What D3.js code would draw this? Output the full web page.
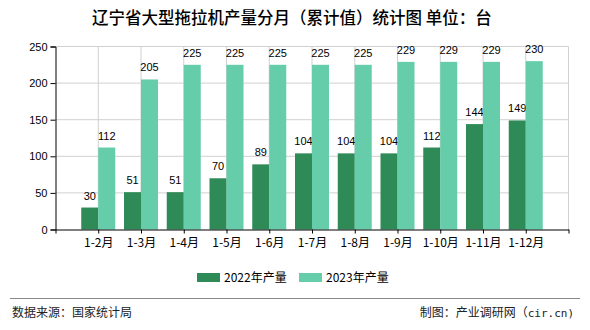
<!DOCTYPE html>
<html>
<head>
<meta charset="utf-8">
<script src="https://cdn.jsdelivr.net/npm/d3@7"></script>
<style>
  html, body { margin: 0; padding: 0; background: #fff; }
  svg { display: block; font-family: "Liberation Sans", Arial, "Noto Sans CJK SC", sans-serif; }
</style>
</head>
<body>
<svg id="chart" width="590" height="330"></svg>
<script>
// Monthly cumulative output of large tractors in Liaoning (units)
const categories = ["1-2月", "1-3月", "1-4月", "1-5月", "1-6月", "1-7月", "1-8月", "1-9月", "1-10月", "1-11月", "1-12月"];
const values2022 = [30, 51, 51, 70, 89, 104, 104, 104, 112, 144, 149];
const values2023 = [112, 205, 225, 225, 225, 225, 225, 229, 229, 229, 230];
const seriesNames = ["2022年产量", "2023年产量"];
const seriesColors = ["#2e8b57", "#66cdaa"];
const yTicks = [0, 50, 100, 150, 200, 250];

const svg = d3.select("#chart");
const cjk = '"Noto Sans CJK SC", "Liberation Sans", sans-serif';

// Slot positions: categories sit on slots 1..11 of a 0..12 axis
const x = d3.scaleLinear().domain([0, 12]).range([55.5, 568.5]);
const y = d3.scaleLinear().domain([0, 250]).range([229.5, 46.5]);
const barW = 17;

// Title
svg.append("text")
  .attr("x", 92).attr("y", 24)
  .attr("font-family", cjk).attr("font-size", 16.5).attr("font-weight", 500)
  .attr("fill", "#000")
  .text("辽宁省大型拖拉机产量分月（累计值）统计图 单位：台");

// Horizontal gridlines
svg.append("g").selectAll("line").data(yTicks.slice(1)).join("line")
  .attr("x1", x(0)).attr("x2", x(12))
  .attr("y1", d => y(d)).attr("y2", d => y(d))
  .attr("stroke", "#d0d0d0").attr("stroke-width", 1);

// Vertical gridlines
svg.append("g").selectAll("line").data(d3.range(1, 13)).join("line")
  .attr("x1", d => x(d)).attr("x2", d => x(d))
  .attr("y1", y(0)).attr("y2", y(250))
  .attr("stroke", "#d0d0d0").attr("stroke-width", 1);

// Bars with value labels
const groups = [values2022, values2023];
groups.forEach((vals, s) => {
  svg.append("g").selectAll("rect").data(vals).join("rect")
    .attr("x", (d, i) => s === 0 ? x(i + 1) - barW : x(i + 1))
    .attr("y", d => y(d))
    .attr("width", barW)
    .attr("height", d => y(0) - y(d))
    .attr("fill", seriesColors[s]);
  svg.append("g").selectAll("text").data(vals).join("text")
    .attr("x", (d, i) => s === 0 ? x(i + 1) - barW / 2 : x(i + 1) + barW / 2)
    .attr("y", d => y(d) - 8)
    .attr("text-anchor", "middle")
    .attr("font-size", 11).attr("fill", "#000")
    .text(d => d);
});

// Y axis
const yAxis = svg.append("g").attr("transform", `translate(${x(0)},0)`)
  .call(d3.axisLeft(y).tickValues(yTicks).tickSize(5).tickPadding(3));
yAxis.selectAll("text").attr("font-size", 11).attr("fill", "#000")
  .attr("font-family", '"Liberation Sans", Arial, sans-serif');
yAxis.selectAll("line, path").attr("stroke", "#000");

// X axis
const xAxis = svg.append("g").attr("transform", `translate(0,${y(0)})`)
  .call(d3.axisBottom(x).tickValues(d3.range(0, 13)).tickSize(4).tickSizeOuter(0)
    .tickFormat(i => (i >= 1 && i <= categories.length) ? categories[i - 1] : ""));
xAxis.selectAll("text").attr("font-size", 12).attr("fill", "#000")
  .attr("font-family", cjk).attr("dy", "0.9em");
xAxis.selectAll("line, path").attr("stroke", "#000");

// Legend
const legend = svg.append("g");
const legendX = [197, 299];
seriesNames.forEach((name, s) => {
  legend.append("rect")
    .attr("x", legendX[s]).attr("y", 273).attr("width", 23).attr("height", 9)
    .attr("fill", seriesColors[s]);
  legend.append("text")
    .attr("x", legendX[s] + 27).attr("y", 277.5).attr("dy", "0.35em")
    .attr("font-size", 12).attr("font-family", cjk).attr("fill", "#000")
    .text(name);
});

// Footer
svg.append("line")
  .attr("x1", 10).attr("x2", 580).attr("y1", 298.5).attr("y2", 298.5)
  .attr("stroke", "#888").attr("stroke-width", 1);
svg.append("text")
  .attr("x", 12).attr("y", 313).attr("dy", "0.35em")
  .attr("font-size", 12).attr("font-family", cjk).attr("fill", "#222")
  .text("数据来源：国家统计局");
const credit = svg.append("text")
  .attr("x", 574).attr("y", 313).attr("dy", "0.35em").attr("text-anchor", "end")
  .attr("font-size", 12).attr("font-family", cjk).attr("fill", "#222");
credit.append("tspan").text("制图：产业调研网（");
credit.append("tspan").attr("font-family", '"DejaVu Sans Mono", "Liberation Mono", monospace')
  .attr("font-size", 11).text("cir.cn)");
</script>
</body>
</html>
